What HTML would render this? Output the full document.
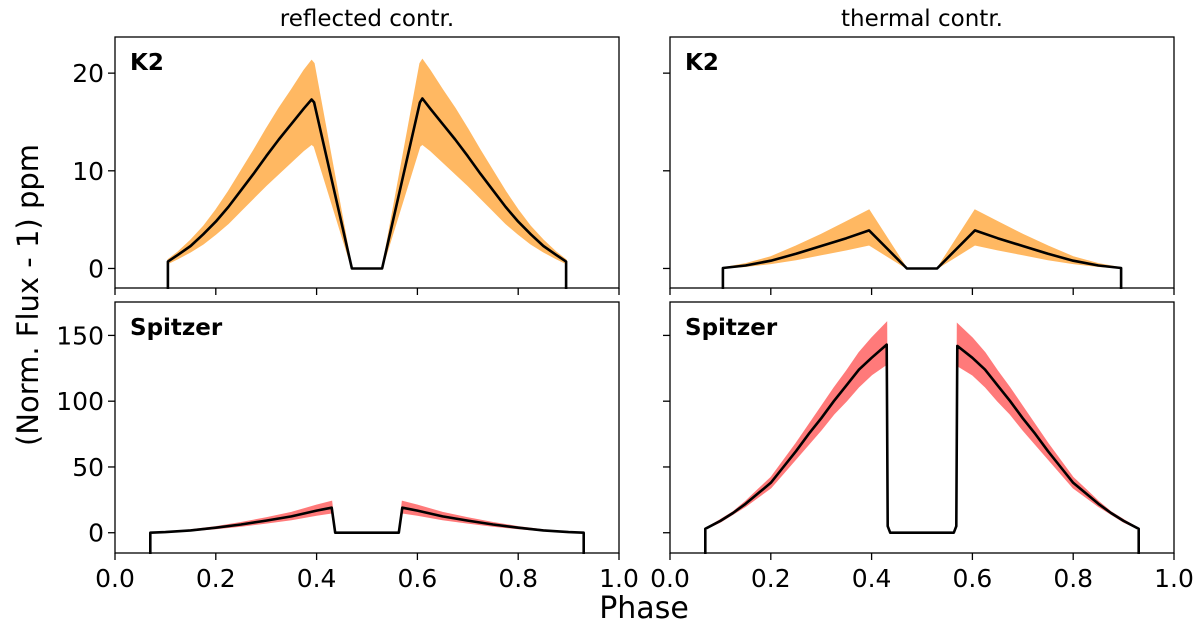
<!DOCTYPE html>
<html><head><meta charset="utf-8"><style>
body{margin:0;background:#fff}
svg{display:block;font-family:"DejaVu Sans","Liberation Sans",sans-serif}
</style></head><body>
<svg id="fig" width="1200" height="629" viewBox="0 0 1200 629" xmlns="http://www.w3.org/2000/svg"></svg>
<script>
// ---- data ----
const xTicks = [0.0, 0.2, 0.4, 0.6, 0.8, 1.0];
const xTickLabels = ["0.0","0.2","0.4","0.6","0.8","1.0"];
const yTicksTop = [0, 10, 20];
const yTicksBottom = [0, 50, 100, 150];
// K2 reflected
const k2rPhase = [0.105,0.125,0.15,0.175,0.2,0.225,0.25,0.275,0.3,0.325,0.35,0.375,0.39,0.395,0.47,0.53,0.605,0.61,0.625,0.65,0.675,0.7,0.725,0.75,0.775,0.8,0.825,0.85,0.875,0.895];
const k2rMean  = [0.7,1.4,2.3,3.5,4.8,6.3,8.0,9.7,11.5,13.2,14.8,16.4,17.3,17.0,0,0,17.0,17.4,16.4,14.8,13.2,11.5,9.7,8.0,6.3,4.8,3.5,2.3,1.4,0.7];
const k2rHi    = [0.9,1.7,2.9,4.3,6.0,7.9,10.0,12.1,14.3,16.4,18.3,20.3,21.3,21.0,0,0,21.0,21.4,20.3,18.3,16.4,14.3,12.1,10.0,7.9,6.0,4.3,2.9,1.7,0.9];
const k2rLo    = [0.5,1.0,1.7,2.5,3.5,4.6,5.9,7.2,8.5,9.7,10.9,12.1,12.7,12.5,0,0,12.5,12.7,12.1,10.9,9.7,8.5,7.2,5.9,4.6,3.5,2.5,1.7,1.0,0.5];
// K2 thermal
const k2tPhase = [0.105,0.15,0.2,0.25,0.3,0.35,0.395,0.47,0.53,0.605,0.65,0.7,0.75,0.8,0.85,0.895];
const k2tMean  = [0.05,0.3,0.8,1.5,2.3,3.1,3.9,0,0,3.9,3.1,2.3,1.5,0.8,0.3,0.05];
const k2tHi    = [0.08,0.5,1.2,2.3,3.5,4.8,6.0,0,0,6.0,4.8,3.5,2.3,1.2,0.5,0.08];
const k2tLo    = [0.03,0.2,0.5,0.9,1.4,1.9,2.4,0,0,2.4,1.9,1.4,0.9,0.5,0.2,0.03];
// Spitzer reflected
const sprPhase = [0.07,0.1,0.15,0.2,0.25,0.3,0.35,0.4,0.43,0.437,0.563,0.57,0.6,0.65,0.7,0.75,0.8,0.85,0.9,0.93];
const sprMean  = [0,0.5,1.8,3.8,6.3,9.2,12.4,16.8,19.0,0,0,19.0,16.8,12.4,9.2,6.3,3.8,1.8,0.5,0];
const sprHi    = [0,0.6,2.2,4.7,7.8,11.4,15.5,21.0,24.0,0,0,24.0,21.0,15.5,11.4,7.8,4.7,2.2,0.6,0];
const sprLo    = [0,0.4,1.4,3.0,5.0,7.3,9.9,13.3,15.0,0,0,15.0,13.3,9.9,7.3,5.0,3.0,1.4,0.4,0];
// Spitzer thermal
const sptPhase = [0.07,0.1,0.125,0.15,0.175,0.2,0.225,0.25,0.275,0.3,0.325,0.35,0.375,0.4,0.43,0.432,0.437,0.563,0.568,0.57,0.6,0.625,0.65,0.675,0.7,0.725,0.75,0.775,0.8,0.825,0.85,0.875,0.9,0.93];
const sptMean  = [3.0,9,15,22,30,38,50,62,75,87,100,112,124,133,143,5,0,0,5,142,133,124,112,100,87,75,62,50,38,30,22,15,9,3.0];
const sptHi    = [3.3,10,16,24,33,42,55,68,82,96,110,123,137,148,160,5,0,0,5,159,148,137,123,110,96,82,68,55,42,33,24,16,10,3.3];
const sptLo    = [2.7,8,14,20,27,34,45,56,67,78,90,100,111,120,128,5,0,0,5,127,120,111,100,90,78,67,56,45,34,27,20,14,8,2.7];

// ---- drawing ----
const NS="http://www.w3.org/2000/svg";
const svg=document.getElementById('fig');
function mk(tag,attrs,parent){const e=document.createElementNS(NS,tag);for(const k in attrs)e.setAttribute(k,attrs[k]);(parent||svg).appendChild(e);return e;}
const cols={left:[115,619],right:[670,1174]};
const rows={top:[37,288,-2.0,23.7],bottom:[302,553,-15.4,175.4]};

function panel(name,col,row,phase,mean,hi,lo,fill,yt,showY,label){
  const [x0,x1]=cols[col];const [y0,y1,vmin,vmax]=rows[row];
  const X=p=>x0+p*(x1-x0);const Y=v=>y1-(v-vmin)/(vmax-vmin)*(y1-y0);
  const g=mk('g',{});
  
  
  let d='M'+phase.map((p,i)=>X(p).toFixed(1)+','+Y(hi[i]).toFixed(1)).join('L');
  for(let i=phase.length-1;i>=0;i--)d+='L'+X(phase[i]).toFixed(1)+','+Y(lo[i]).toFixed(1);
  const band=mk('path',{d:d+'Z',fill:fill,stroke:fill,'stroke-width':1},g);
  
  
  const n=phase.length;
  let ld='M'+X(phase[0]).toFixed(1)+','+(y1+1)+'L'+phase.map((p,i)=>X(p).toFixed(1)+','+Y(mean[i]).toFixed(1)).join('L')+'L'+X(phase[n-1]).toFixed(1)+','+(y1+1);
  const line=mk('path',{d:ld,fill:'none',stroke:'#000','stroke-width':2.6,'stroke-linejoin':'round'},g);
  
  
  const fr=mk('rect',{x:x0,y:y0,width:x1-x0,height:y1-y0,fill:'none',stroke:'#000','stroke-width':1.3},g);
  
  
  xTicks.forEach((t,i)=>{
    mk('line',{x1:X(t),x2:X(t),y1:y1,y2:y1+7,stroke:'#000','stroke-width':1.3},g);
    if(row==='bottom'){const tx=mk('text',{x:X(t),y:y1+34,'font-size':25,'text-anchor':'middle'},g);tx.textContent=xTickLabels[i];
      
      }
  });
  yt.forEach(t=>{
    mk('line',{x1:x0-7,x2:x0,y1:Y(t),y2:Y(t),stroke:'#000','stroke-width':1.3},g);
    if(showY){const tx=mk('text',{x:x0-11,y:Y(t)+9,'font-size':25,'text-anchor':'end'},g);tx.textContent=String(t);
      
      }
  });
  const lb=mk('text',{x:x0+15,y:y0+33,'font-size':23,'font-weight':'bold'},g);lb.textContent=label;
  
  
}
const orange='rgb(255,184,98)',red='rgb(255,122,122)';
panel('k2-reflected-panel','left','top',k2rPhase,k2rMean,k2rHi,k2rLo,orange,yTicksTop,true,'K2');
panel('k2-thermal-panel','right','top',k2tPhase,k2tMean,k2tHi,k2tLo,orange,yTicksTop,false,'K2');
panel('spitzer-reflected-panel','left','bottom',sprPhase,sprMean,sprHi,sprLo,red,yTicksBottom,true,'Spitzer');
panel('spitzer-thermal-panel','right','bottom',sptPhase,sptMean,sptHi,sptLo,red,yTicksBottom,false,'Spitzer');

function txt(name,s,attrs){const t=mk('text',attrs);t.textContent=s;
  
  }
txt('left-column-title','reflected contr.',{x:367,y:26,'font-size':23,'text-anchor':'middle'});
txt('right-column-title','thermal contr.',{x:922,y:26,'font-size':23,'text-anchor':'middle'});
txt('x-axis-title','Phase',{x:644,y:618,'font-size':30,'text-anchor':'middle'});
txt('y-axis-title','(Norm. Flux - 1) ppm',{x:0,y:0,'font-size':29,'text-anchor':'middle',transform:'translate(38,295) rotate(-90)'});
</script>
</body></html>
